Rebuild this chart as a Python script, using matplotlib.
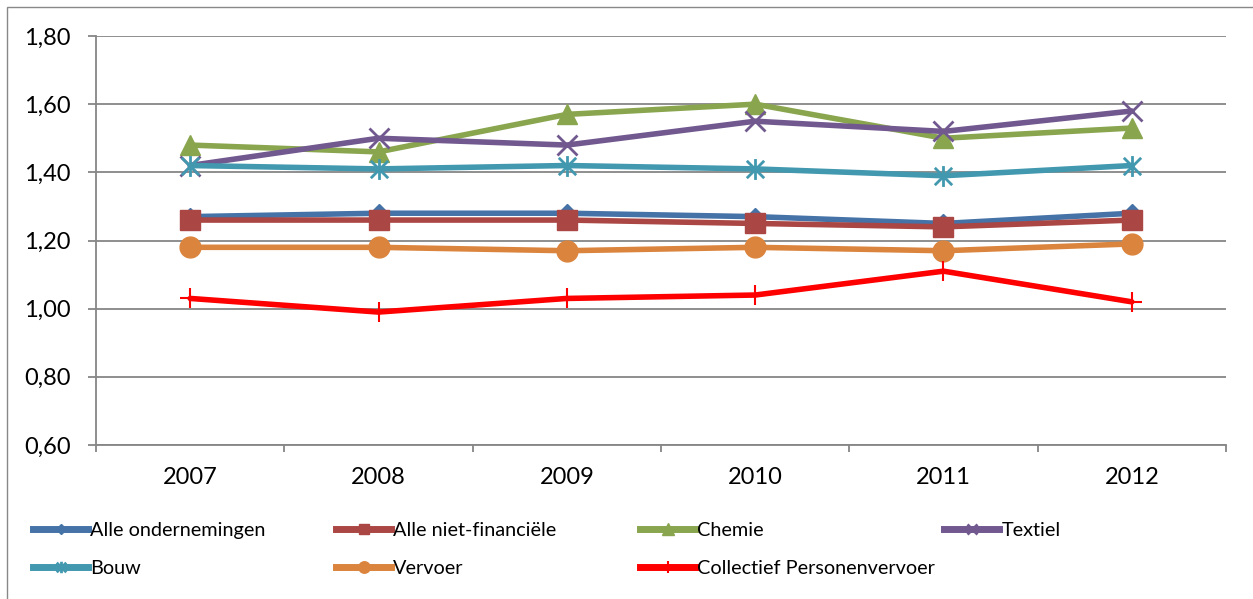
import matplotlib
matplotlib.use("Agg")
import matplotlib.pyplot as plt
from matplotlib.lines import Line2D
from matplotlib.path import Path
from matplotlib.patches import Rectangle
from matplotlib.ticker import FuncFormatter, FixedLocator

plt.rcParams['font.family'] = ['Lato', 'DejaVu Sans']

years = ['2007', '2008', '2009', '2010', '2011', '2012']
series_names = ['Alle ondernemingen', 'Alle niet-financiële', 'Chemie', 'Textiel',
                'Bouw', 'Vervoer', 'Collectief Personenvervoer']
alle_ondernemingen = [1.27, 1.28, 1.28, 1.27, 1.25, 1.28]
alle_niet_financiele = [1.26, 1.26, 1.26, 1.25, 1.24, 1.26]
chemie = [1.48, 1.46, 1.57, 1.60, 1.50, 1.53]
textiel = [1.42, 1.50, 1.48, 1.55, 1.52, 1.58]
bouw = [1.42, 1.41, 1.42, 1.41, 1.39, 1.42]
vervoer = [1.18, 1.18, 1.17, 1.18, 1.17, 1.19]
collectief = [1.03, 0.99, 1.03, 1.04, 1.11, 1.02]
y_ticks = [0.60, 0.80, 1.00, 1.20, 1.40, 1.60, 1.80]

W, H = 1253, 599
fig = plt.figure(figsize=(W / 100, H / 100), dpi=100)
ax = fig.add_axes([96 / W, 1 - 445 / H, (1226 - 96) / W, (445 - 36) / H])

# asterisk marker (X plus vertical bar) like Excel's star
star = Path([(-1, -1), (1, 1), (-1, 1), (1, -1), (0, -1.2), (0, 1.2)],
            [Path.MOVETO, Path.LINETO, Path.MOVETO, Path.LINETO, Path.MOVETO, Path.LINETO])

styles = [
    dict(color='#4572A7', marker='D', ms=9, mec='#4572A7'),
    dict(color='#AA4643', marker='s', ms=14, mec='#AA4643'),
    dict(color='#89A54E', marker='^', ms=15, mec='#89A54E'),
    dict(color='#71588F', marker='x', ms=14, mew=2.0, mec='#71588F'),
    dict(color='#4198AF', marker=star, ms=15, mew=2.0, mec='#4198AF'),
    dict(color='#DB843D', marker='o', ms=15, mec='#DB843D'),
    dict(color='#FF0000', marker='+', ms=15, mew=1.5, mec='#FF0000'),
]
data = [alle_ondernemingen, alle_niet_financiele, chemie, textiel, bouw, vervoer, collectief]
x = list(range(len(years)))
for name, vals, st in zip(series_names, data, styles):
    ax.plot(x, vals, lw=4, label=name, solid_capstyle='round', zorder=3, **st)

ax.set_xlim(-0.5, len(years) - 0.5)
ax.set_ylim(0.6, 1.8)
ax.set_yticks(y_ticks)
ax.yaxis.set_major_formatter(FuncFormatter(lambda v, p: f"{v:.2f}".replace('.', ',')))
ax.set_xticks(x)
ax.set_xticklabels(years)
ax.xaxis.set_minor_locator(FixedLocator([i - 0.5 for i in range(len(years) + 1)]))
ax.tick_params(axis='x', which='major', length=0, pad=16, labelsize=17)
ax.tick_params(axis='x', which='minor', length=5, width=1.3, color='#868686', direction='out')
ax.tick_params(axis='y', which='major', length=6, width=1.3, color='#868686', pad=12, labelsize=17)
ax.grid(axis='y', color='#868686', lw=1.3, zorder=0)
for s in ['top', 'right']:
    ax.spines[s].set_visible(False)
for s in ['left', 'bottom']:
    ax.spines[s].set_color('#868686')
    ax.spines[s].set_linewidth(1.3)
ax.set_axisbelow(True)

# legend: one legend per column
handles = []
for name, st in zip(series_names, styles):
    st2 = dict(st)
    st2['ms'] = st['ms'] * 0.55
    handles.append(Line2D([], [], lw=5, label=name, **st2))
col_x = [33, 336, 640, 944]
cols = [[0, 4], [1, 5], [2, 6], [3]]
fs = 14.3
for cx, idx in zip(col_x, cols):
    fig.legend(handles=[handles[i] for i in idx], loc='upper left',
               bbox_to_anchor=(cx / W, 1 - 522 / H), frameon=False, fontsize=fs,
               handlelength=55 / (fs * 100 / 72), handletextpad=0.12,
               borderpad=0, borderaxespad=0, labelspacing=1.05)

fig.patches.append(Rectangle((7 / W, -0.1), 1.2, 1 - 7 / H + 0.1, transform=fig.transFigure,
                             fill=False, edgecolor='#888888', lw=1.0))

fig.savefig('out.png', dpi=100)
